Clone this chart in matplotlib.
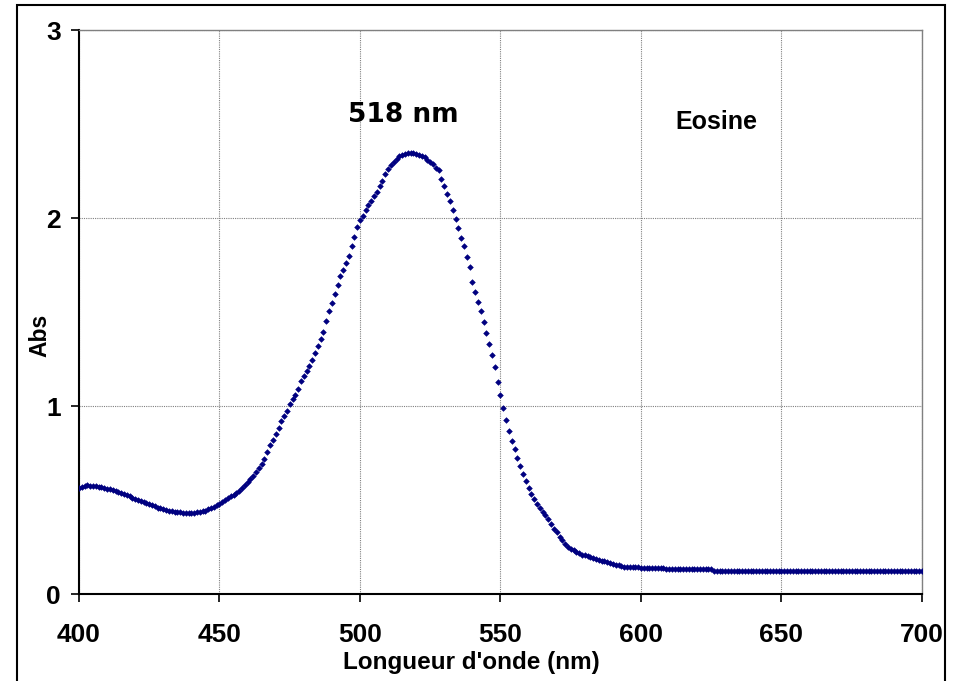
"""Absorption spectrum of eosin, 400-700 nm."""

import matplotlib.pyplot as plt
from matplotlib.patches import Rectangle

# absorbance sampled every 1 nm from 400 nm to 700 nm
ABS = [
    0.565, 0.570, 0.575, 0.578, 0.577, 0.575, 0.572, 0.570, 0.567, 0.563,  # 400
    0.560, 0.556, 0.552, 0.547, 0.542, 0.537, 0.531, 0.525, 0.519, 0.513,  # 410
    0.507, 0.501, 0.496, 0.490, 0.484, 0.478, 0.472, 0.466, 0.460, 0.455,  # 420
    0.450, 0.446, 0.443, 0.440, 0.438, 0.436, 0.434, 0.432, 0.430, 0.430,  # 430
    0.431, 0.433, 0.435, 0.437, 0.440, 0.444, 0.450, 0.457, 0.465, 0.473,  # 440
    0.480, 0.489, 0.499, 0.509, 0.519, 0.528, 0.538, 0.550, 0.563, 0.578,  # 450
    0.595, 0.613, 0.630, 0.648, 0.668, 0.690, 0.720, 0.755, 0.790, 0.820,  # 460
    0.850, 0.885, 0.918, 0.948, 0.975, 1.010, 1.035, 1.060, 1.090, 1.135,  # 470
    1.160, 1.188, 1.215, 1.245, 1.280, 1.318, 1.355, 1.393, 1.450, 1.505,  # 480
    1.550, 1.596, 1.643, 1.690, 1.725, 1.760, 1.800, 1.850, 1.900, 1.950,  # 490
    1.990, 2.012, 2.040, 2.068, 2.090, 2.115, 2.140, 2.168, 2.195, 2.235,  # 500
    2.260, 2.280, 2.300, 2.315, 2.328, 2.336, 2.341, 2.346, 2.348, 2.347,  # 510
    2.340, 2.334, 2.328, 2.322, 2.310, 2.298, 2.286, 2.268, 2.255, 2.210,  # 520
    2.170, 2.130, 2.090, 2.045, 1.995, 1.947, 1.894, 1.850, 1.790, 1.740,  # 530
    1.660, 1.605, 1.555, 1.505, 1.448, 1.386, 1.330, 1.270, 1.210, 1.130,  # 540
    1.060, 0.990, 0.923, 0.868, 0.815, 0.772, 0.725, 0.680, 0.640, 0.603,  # 550
    0.565, 0.530, 0.503, 0.480, 0.460, 0.438, 0.422, 0.398, 0.374, 0.348,  # 560
    0.328, 0.305, 0.286, 0.266, 0.252, 0.240, 0.232, 0.224, 0.216, 0.210,  # 570
    0.205, 0.200, 0.195, 0.190, 0.185, 0.180, 0.177, 0.173, 0.168, 0.164,  # 580
    0.160, 0.156, 0.152, 0.149, 0.146, 0.145, 0.144, 0.143, 0.142, 0.141,  # 590
    0.138, 0.138, 0.138, 0.138, 0.138, 0.138, 0.138, 0.138, 0.138, 0.131,  # 600
    0.131, 0.131, 0.131, 0.131, 0.131, 0.131, 0.131, 0.131, 0.131, 0.131,  # 610
    0.131, 0.131, 0.131, 0.131, 0.131, 0.133, 0.122, 0.122, 0.122, 0.122,  # 620
    0.122, 0.122, 0.122, 0.122, 0.122, 0.122, 0.122, 0.122, 0.122, 0.122,  # 630
    0.122, 0.122, 0.122, 0.122, 0.122, 0.122, 0.122, 0.122, 0.122, 0.122,  # 640
    0.122, 0.122, 0.122, 0.122, 0.122, 0.122, 0.122, 0.122, 0.122, 0.122,  # 650
    0.122, 0.122, 0.122, 0.122, 0.122, 0.122, 0.122, 0.122, 0.122, 0.122,  # 660
    0.122, 0.122, 0.122, 0.122, 0.122, 0.122, 0.122, 0.122, 0.122, 0.122,  # 670
    0.122, 0.122, 0.122, 0.122, 0.122, 0.122, 0.122, 0.122, 0.122, 0.122,  # 680
    0.122, 0.122, 0.122, 0.122, 0.122, 0.122, 0.122, 0.122, 0.122, 0.122,  # 690
    0.122,                                                                 # 700
]
WAVELENGTH = list(range(400, 701))

XTICKS = [400, 450, 500, 550, 600, 650, 700]
YTICKS = [0, 1, 2, 3]
PEAK_LABEL = "518 nm"
SAMPLE = "Eosine"

W, H = 954, 681

plt.rcParams["font.family"] = ["Liberation Sans", "DejaVu Sans"]
plt.rcParams["font.weight"] = "bold"

fig = plt.figure(figsize=(W / 100, H / 100), dpi=100)
ax = fig.add_axes([79 / W, 1 - 594 / H, (922 - 79) / W, (594 - 30) / H])

ax.plot(WAVELENGTH, ABS, linestyle="none", marker="D", markersize=2.9,
        color="#000080", markeredgecolor="#000080", markeredgewidth=0.4,
        zorder=3)

ax.set_xlim(400, 700)
ax.set_ylim(0, 3)
ax.set_xticks(XTICKS)
ax.set_yticks(YTICKS)
ax.grid(True, color="#808080", linestyle=(0, (1, 1)), linewidth=0.8)

for side in ("left", "bottom"):
    ax.spines[side].set_color("black")
    ax.spines[side].set_linewidth(1.5)
for side in ("top", "right"):
    ax.spines[side].set_color("#808080")
    ax.spines[side].set_linewidth(1.0)

ax.tick_params(direction="out", length=6, width=1.2, color="black",
               labelsize=19)
ax.tick_params(axis="x", pad=15)
ax.tick_params(axis="y", pad=7)
for lbl in ax.get_xticklabels() + ax.get_yticklabels():
    lbl.set_fontweight("bold")

fig.text(471 / W, 1 - 663 / H, "Longueur d'onde (nm)", ha="center",
         va="center", fontsize=17.5, fontweight="bold")
fig.text(40 / W, 1 - 335 / H, "Abs", ha="center", va="center",
         rotation=90, fontsize=16.5, fontweight="bold")

fig.text(403 / W, 1 - 115 / H, PEAK_LABEL, ha="center", va="center",
         fontsize=19, fontweight="bold", family="DejaVu Sans")
fig.text(716 / W, 1 - 122 / H, SAMPLE, ha="center", va="center",
         fontsize=18, fontweight="bold")

# frame around the whole chart, open at the bottom edge
fig.add_artist(Rectangle((17 / W, -0.05), (945 - 17) / W, 1.05 - 5 / H,
                         transform=fig.transFigure, fill=False,
                         edgecolor="black", linewidth=1.5, clip_on=False))

fig.savefig("out.png", dpi=100)
